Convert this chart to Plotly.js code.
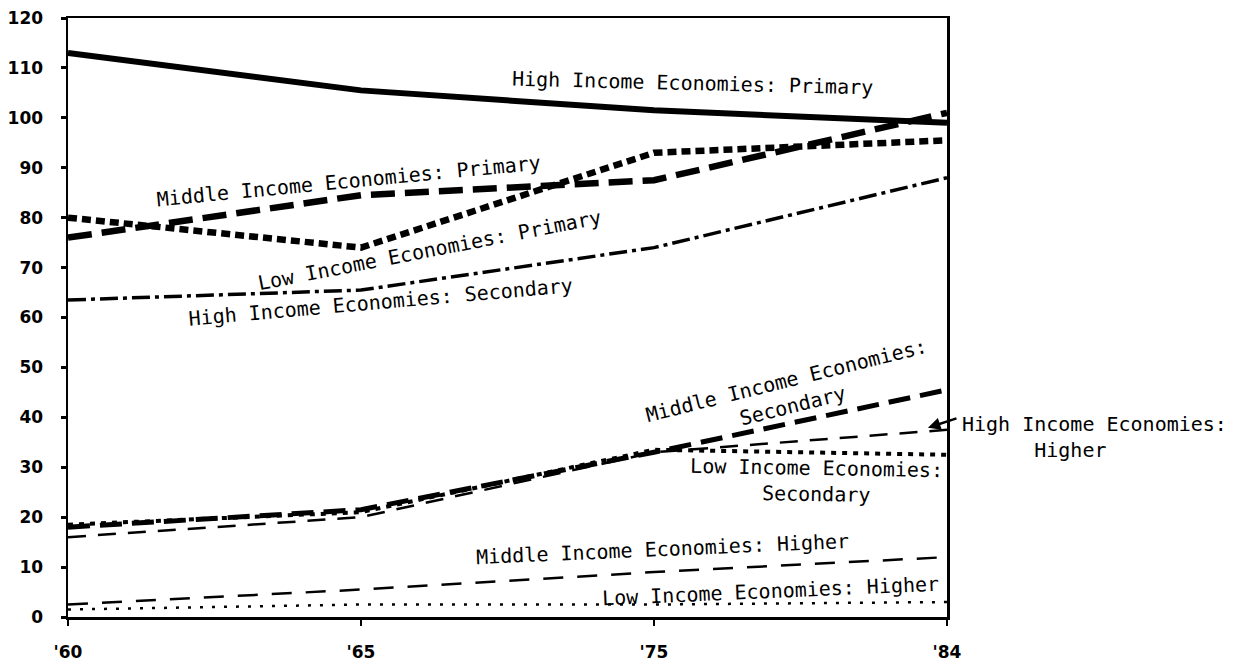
<!DOCTYPE html>
<html>
<head>
<meta charset="utf-8">
<script src="https://cdn.plot.ly/plotly-3.0.1.min.js"></script>
<style>html,body{margin:0;padding:0;background:#fff;}#chart{width:1233px;height:661px;}</style>
</head>
<body>
<div id="chart"></div>
<script>
// Categories (school years shown on the x axis)
const years = ["'60", "'65", "'75", "'84"];

// Gross enrollment ratios
const highPrimary    = [113, 105.5, 101.5, 99];
const middlePrimary  = [76, 84.5, 87.5, 101];
const lowPrimary     = [80, 74, 93, 95.5];
const highSecondary  = [63.5, 65.5, 74, 88];
const middleSecondary= [18, 21.5, 33, 45.5];
const lowSecondary   = [18.5, 21, 33.5, 32.5];
const highHigher     = [16, 20, 33, 37.5];
const middleHigher   = [2.5, 5.5, 9, 12];
const lowHigher      = [1.5, 2.5, 2.5, 3];

const yTicks = [0,10,20,30,40,50,60,70,80,90,100,110,120];

function series(name, y, width, dash) {
  return {type:'scatter', mode:'lines', name:name, x:years, y:y,
          line:{color:'#000', width:width, dash:dash}, hoverinfo:'skip'};
}

const data = [
  series('High Income Economies: Primary', highPrimary, 6, 'solid'),
  series('Middle Income Economies: Primary', middlePrimary, 6.5, '24px,10px'),
  series('Low Income Economies: Primary', lowPrimary, 6.5, '9px,5px'),
  series('High Income Economies: Secondary', highSecondary, 3.5, '18px,5px,4px,5px'),
  series('Middle Income Economies: Secondary', middleSecondary, 5, '22px,10px'),
  series('Low Income Economies: Secondary', lowSecondary, 4, '5px,6px'),
  series('High Income Economies: Higher', highHigher, 2.5, '18px,12px'),
  series('Middle Income Economies: Higher', middleHigher, 2.5, '20px,14px'),
  series('Low Income Economies: Higher', lowHigher, 2.5, '3px,9px')
];

const tf = {family:'"DejaVu Sans Mono", monospace', size:20, color:'#000'};
function lab(text, x, y, angle, extra) {
  return Object.assign({text:text, x:x, y:y, xref:'x', yref:'y', showarrow:false,
    textangle:angle, font:tf}, extra||{});
}

const annotations = [
  lab('High Income Economies: Primary', 2.13, 107.0, 1.4),
  lab('Middle Income Economies: Primary', 0.956, 87.4, -5.5),
  lab('Low Income Economies: Primary', 1.235, 73.5, -11),
  lab('High Income Economies: Secondary', 1.065, 63.1, -5),
  lab('Middle Income Economies:<br>Secondary', 2.464, 44.9, -14),
  lab('Low Income Economies:<br>Secondary', 2.556, 27.3, 1),
  lab('Middle Income Economies: Higher', 2.03, 13.6, -2.5),
  lab('Low Income Economies: Higher', 2.396, 5.2, -2.5),
  {text:'High Income Economies:<br>\u00a0\u00a0\u00a0\u00a0\u00a0\u00a0Higher', x:1.015, y:36.1,
   xref:'paper', yref:'y', xanchor:'left', align:'left', showarrow:false, font:tf},
  {text:'', x:2.935, y:37.9, xref:'x', yref:'y', showarrow:true, ax:30, ay:-10,
   arrowhead:2, arrowsize:1, arrowwidth:2.5, arrowcolor:'#000'}
];

const layout = {
  width:1233, height:661,
  margin:{l:68, r:286, t:18, b:44},
  paper_bgcolor:'#fff', plot_bgcolor:'#fff',
  showlegend:false,
  font:{family:'"DejaVu Sans", sans-serif', color:'#000'},
  xaxis:{type:'category', range:[0,3], showgrid:false, zeroline:false,
         showline:true, mirror:true, linecolor:'#000', linewidth:2.5,
         ticks:'outside', ticklen:6, tickwidth:2, tickcolor:'#000',
         ticklabelstandoff:12,
         tickfont:{family:'"DejaVu Sans", sans-serif', size:17, color:'#000', weight:'bold'}},
  yaxis:{range:[0,120], tickvals:yTicks, ticktext:yTicks.map(String),
         showgrid:false, zeroline:false,
         showline:true, mirror:true, linecolor:'#000', linewidth:2.5,
         ticks:'outside', ticklen:5, tickwidth:3, tickcolor:'#000',
         ticklabelstandoff:14,
         tickfont:{family:'"DejaVu Sans", sans-serif', size:17, color:'#000', weight:'bold'}},
  annotations:annotations
};

Plotly.newPlot('chart', data, layout, {staticPlot:true, displayModeBar:false});
</script>
</body>
</html>
